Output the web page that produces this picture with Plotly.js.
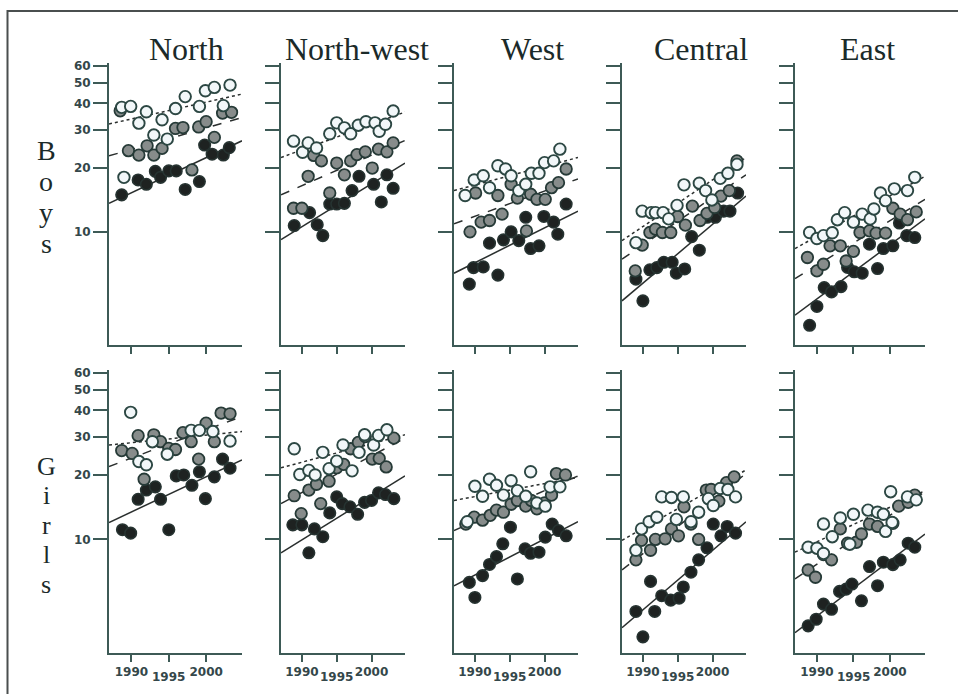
<!DOCTYPE html>
<html><head><meta charset="utf-8">
<script src="https://cdn.plot.ly/plotly-3.0.1.min.js"></script>
<style>html,body{margin:0;padding:0;background:#fff}#chart{width:958px;height:694px}</style>
</head><body><div id="chart"></div>
<script>
// ---------- data ----------
const regions = ['North', 'North-west', 'West', 'Central', 'East'];
const sexes = ['Boys', 'Girls'];
const tickYears = [1990, 1995, 2000];
const tickLabels = ['1990', '1995', '2000'];
const yTickValues = [10, 20, 30, 40, 50, 60];
const trendYears = [1987, 2004.8];

// North, boys
const N_b_black_x = [1988.7,1990.9,1992.0,1993.2,1993.9,1995.0,1996.0,1997.2,1999.1,1999.8,2000.8,2002.3,2003.1];
const N_b_black_y = [14.9,17.5,16.7,19.2,18.0,19.3,19.3,15.8,17.2,25.5,23.1,22.9,24.8];
const N_b_gray_x = [1988.5,1989.6,1991.0,1992.1,1993.0,1994.1,1995.9,1996.9,1999.0,2000.0,2001.1,2002.2,2003.4,1998.1];
const N_b_gray_y = [36.9,24.0,22.9,25.3,22.9,24.6,30.5,30.8,31.0,32.8,27.7,36.0,36.3,19.5];
const N_b_white_x = [1988.7,1989.9,1991.0,1992.0,1993.0,1994.1,1994.8,1995.9,1997.2,1999.1,1999.9,2001.1,2002.3,2003.2,1989.0];
const N_b_white_y = [38.3,38.7,32.3,36.5,28.4,33.5,27.2,37.8,43.0,38.7,45.8,47.5,39.0,48.7,18.0];
const N_b_trends = [[13.6,26.7],[22.7,34.3],[32,44.2]];
// North, girls
const N_g_black_x = [1988.8,1989.9,1990.9,1992.0,1993.2,1993.9,1995.0,1996.0,1997.0,1998.1,1999.1,1999.9,2001.1,2002.2,2003.2];
const N_g_black_y = [11.1,10.7,15.4,17.0,17.6,15.4,11.1,19.8,20.0,17.9,20.7,15.5,19.6,23.7,21.5];
const N_g_gray_x = [1988.7,1990.1,1990.9,1991.7,1993.0,1993.9,1995.0,1995.9,1996.9,1998.0,1999.0,2000.0,2001.1,2002.0,2003.2];
const N_g_gray_y = [26.0,25.2,30.5,19.1,30.8,28.6,26.6,26.3,31.5,28.6,23.7,34.9,28.6,38.9,38.6];
const N_g_white_x = [1989.9,1991.0,1992.0,1992.8,1994.8,1998.0,1999.1,2000.9,2003.2];
const N_g_white_y = [39.2,23.1,22.3,28.6,25.0,32.3,32.3,31.9,28.8];
const N_g_trends = [[12,23.5],[21.9,37.5],[27.6,31.9]];
// North-west, boys
const NW_b_black_x = [1988.9,1991.1,1992.2,1993.0,1994.0,1995.0,1996.1,1997.2,1998.2,2000.3,2001.4,2002.2,2003.1];
const NW_b_black_y = [10.7,12.3,10.8,9.6,13.5,13.5,13.6,15.6,18.2,16.7,13.8,18.5,16.0];
const NW_b_gray_x = [1988.8,1990.0,1990.9,1991.7,1992.8,1994.0,1995.0,1996.1,1997.0,1997.9,1999.1,2000.1,2001.0,2002.2,2003.1];
const NW_b_gray_y = [12.9,12.9,18.2,22.8,21.5,15.2,21.0,18.5,21.5,23.0,23.7,19.9,24.4,23.7,26.1];
const NW_b_white_x = [1988.8,1990.1,1990.9,1992.1,1994.0,1995.0,1996.1,1997.0,1998.1,1999.2,2000.5,2001.1,2002.0,2003.1];
const NW_b_white_y = [26.6,23.6,26.1,24.7,28.8,32.4,30.7,28.8,31.6,32.8,32.4,29.6,31.9,36.8];
const NW_b_trends = [[9.2,21],[14.9,26.8],[22.3,36.4]];
// North-west, girls
const NW_g_black_x = [1988.7,1990.0,1991.0,1991.8,1993.0,1994.0,1995.0,1995.8,1996.9,1998.0,1999.0,2000.0,2001.0,2002.0,2003.2];
const NW_g_black_y = [11.7,11.7,8.66,11.2,10.3,13.3,15.8,14.7,14.2,13.1,14.9,15.2,16.5,16.2,15.5];
const NW_g_gray_x = [1988.9,1989.9,1991.0,1992.1,1992.7,1993.9,1995.0,1996.0,1997.0,1998.1,1999.1,2000.1,2001.1,2002.1,2003.2];
const NW_g_gray_y = [16.0,13.2,17.0,18.1,14.7,18.7,21.6,22.4,26.5,28.4,30.2,23.7,23.9,21.8,29.7];
const NW_g_white_x = [1988.9,1989.7,1991.0,1991.9,1993.0,1993.9,1995.0,1995.9,1997.2,1998.2,1999.0,2000.3,2001.0,2002.2];
const NW_g_white_y = [26.5,20.1,21.0,20.0,25.5,21.4,23.2,27.6,20.9,25.5,30.8,27.6,30.6,32.5];
const NW_g_trends = [[8.66,19.8],[14.7,29.7],[21.6,30.8]];
// West, boys
const W_b_black_x = [1989.2,1989.8,1991.2,1992.1,1993.3,1994.1,1995.2,1996.3,1997.3,1998.0,1999.2,1999.9,2001.3,2001.9,2003.1];
const W_b_black_y = [5.69,6.8,6.85,8.85,6.27,9.17,10.0,9.1,11.7,8.35,8.6,11.8,11.1,9.75,13.5];
const W_b_gray_x = [1989.3,1990.1,1990.9,1992.1,1993.3,1993.9,1995.2,1996.1,1997.4,1998.0,1998.9,2000.1,2001.0,2002.0,2003.1];
const W_b_gray_y = [10.0,15.2,11.1,11.3,14.8,12.1,16.7,14.4,10.1,15.0,14.2,14.2,16.1,17.0,19.7];
const W_b_white_x = [1988.6,1989.9,1991.2,1992.1,1993.3,1994.4,1995.2,1996.3,1997.3,1998.1,1999.2,2000.0,2001.3,2002.2];
const W_b_white_y = [14.8,17.5,18.3,16.1,20.4,19.7,18.3,15.6,16.7,18.8,18.8,21.1,21.5,24.4];
const W_b_trends = [[6.4,12.5],[10.9,17.7],[15.6,22.3]];
// West, girls
const W_g_black_x = [1989.2,1990.0,1991.1,1992.1,1993.1,1994.0,1995.1,1996.1,1997.2,1998.0,1999.2,2000.1,2001.1,2002.0,2003.1];
const W_g_black_y = [6.3,5.36,6.78,7.64,8.32,9.54,11.4,6.54,9.04,8.62,8.72,10.25,11.8,11.0,10.4];
const W_g_gray_x = [1988.7,1989.9,1991.1,1992.2,1993.1,1994.1,1995.2,1996.1,1997.3,1998.1,1998.9,2000.0,2001.0,2001.7,2003.0];
const W_g_gray_y = [11.8,12.7,12.3,12.96,13.7,13.4,14.6,15.2,14.3,15.2,13.9,14.8,16.1,20.3,20.0];
const W_g_white_x = [1988.9,1990.0,1991.1,1992.1,1993.1,1994.1,1995.2,1996.1,1997.3,1998.0,1998.9,2000.1,2000.8,2002.2];
const W_g_white_y = [12.1,17.7,15.9,19.1,17.9,16.1,18.8,16.9,15.9,20.7,14.8,14.3,17.6,17.6];
const W_g_trends = [[6.08,12.1],[11,19.8],[15.2,19.5]];
// Central, boys
const C_b_black_x = [1989.0,1990.0,1991.0,1992.0,1993.0,1994.2,1994.8,1996.0,1997.0,1998.1,1999.2,2000.4,2001.6,2002.5,2003.6];
const C_b_black_y = [6.0,4.75,6.64,6.8,7.2,7.2,6.4,6.7,9.5,8.2,11.7,11.7,12.5,12.5,15.2];
const C_b_gray_x = [1988.9,1989.9,1991.0,1991.8,1992.8,1994.0,1995.0,1996.1,1997.1,1998.2,1999.2,2000.3,2001.2,2002.4,2003.5];
const C_b_gray_y = [6.56,8.66,9.93,10.3,9.93,9.93,11.8,10.75,13.2,11.3,12.2,13.0,14.7,15.6,21.5];
const C_b_white_x = [1989.0,1989.9,1991.2,1991.8,1992.9,1993.7,1994.9,1995.9,1998.1,1999.0,1999.9,2001.1,2002.2,2003.5];
const C_b_white_y = [8.9,12.5,12.3,12.3,12.3,11.5,13.3,16.6,16.9,15.6,14.1,17.8,18.8,20.7];
const C_b_trends = [[4.75,14.7],[7.45,18.5],[9.1,22.3]];
// Central, girls
const C_g_black_x = [1989.0,1990.0,1991.1,1991.7,1992.7,1994.0,1995.2,1995.8,1996.9,1998.0,1999.2,2000.1,2001.2,2002.1,2003.3];
const C_g_black_y = [4.61,3.51,6.37,4.61,5.46,5.21,5.32,6.0,7.03,8.03,9.14,11.8,10.4,11.5,10.7];
const C_g_gray_x = [1989.0,1989.8,1991.1,1991.8,1993.2,1994.1,1995.1,1995.9,1996.9,1998.0,1999.1,1999.8,2000.9,2002.0,2003.1];
const C_g_gray_y = [8.03,9.9,8.9,10.0,10.07,11.2,10.4,14.2,11.8,10.0,17.0,17.1,15.1,18.4,19.6];
const C_g_white_x = [1989.0,1989.8,1990.9,1992.0,1992.7,1994.1,1994.8,1995.8,1996.9,1998.0,1999.4,2000.1,2001.1,2002.2,2003.3];
const C_g_white_y = [8.9,11.2,12.1,12.7,15.8,15.7,12.4,15.8,12.1,13.4,15.5,14.4,17.3,17.1,15.8];
const C_g_trends = [[3.87,12.1],[7.21,20.3],[9.9,21.1]];
// East, boys
const E_b_black_x = [1989.0,1990.0,1991.0,1992.0,1993.3,1994.2,1995.1,1996.2,1997.2,1998.3,1999.1,2000.4,2001.3,2002.3,2003.4];
const E_b_black_y = [3.65,4.47,5.48,5.23,5.54,6.81,6.5,6.4,8.75,6.73,8.35,8.6,11.0,9.6,9.4];
const E_b_gray_x = [1988.7,1990.0,1990.9,1991.8,1993.2,1994.0,1995.0,1995.9,1997.2,1998.1,1999.4,2000.4,2001.4,2002.4,2003.6];
const E_b_gray_y = [7.58,6.56,7.05,8.6,8.6,7.3,8.1,9.93,10.1,9.86,9.86,12.9,12.1,11.4,12.4];
const E_b_white_x = [1989.0,1990.0,1990.9,1992.1,1992.8,1993.8,1995.0,1996.2,1997.3,1997.8,1998.7,1999.4,2000.6,2002.4,2003.4];
const E_b_white_y = [9.93,9.3,9.6,9.9,11.4,12.3,11.1,12.1,11.5,12.8,15.2,14.0,15.9,15.6,18.0];
const E_b_trends = [[4.07,11.5],[6.04,14.2],[8.35,18.2]];
// East, girls
const E_g_black_x = [1988.8,1989.9,1990.9,1992.0,1993.1,1994.0,1994.8,1996.1,1997.2,1998.3,1999.1,2000.4,2001.4,2002.5,2003.4];
const E_g_black_y = [3.95,4.24,4.99,4.72,5.72,5.86,6.19,5.17,7.47,6.08,7.83,7.63,8.03,9.6,9.2];
const E_g_gray_x = [1988.8,1989.8,1990.9,1992.0,1993.2,1994.2,1995.4,1996.1,1997.2,1998.3,2000.4,2001.2,2002.5,2003.4];
const E_g_gray_y = [7.2,6.66,8.5,8.03,11.2,9.6,9.7,10.6,11.8,11.5,11.9,14.3,14.9,16.1];
const E_g_white_x = [1988.8,1990.0,1990.9,1990.9,1992.1,1993.2,1994.5,1995.0,1997.0,1998.3,1999.1,1999.4,2000.1,2000.3,2002.4,2003.6];
const E_g_white_y = [9.2,9.1,8.6,11.8,10.3,12.6,9.5,13.1,13.7,13.4,13.1,10.9,16.7,12.0,15.8,15.3];
const E_g_trends = [[3.67,10.6],[6.54,16.7],[8.72,16.9]];

// ---------- assembly ----------
const panelRows = [
  [
    [N_b_black_x,N_b_black_y,N_b_gray_x,N_b_gray_y,N_b_white_x,N_b_white_y,N_b_trends],
    [NW_b_black_x,NW_b_black_y,NW_b_gray_x,NW_b_gray_y,NW_b_white_x,NW_b_white_y,NW_b_trends],
    [W_b_black_x,W_b_black_y,W_b_gray_x,W_b_gray_y,W_b_white_x,W_b_white_y,W_b_trends],
    [C_b_black_x,C_b_black_y,C_b_gray_x,C_b_gray_y,C_b_white_x,C_b_white_y,C_b_trends],
    [E_b_black_x,E_b_black_y,E_b_gray_x,E_b_gray_y,E_b_white_x,E_b_white_y,E_b_trends]
  ],
  [
    [N_g_black_x,N_g_black_y,N_g_gray_x,N_g_gray_y,N_g_white_x,N_g_white_y,N_g_trends],
    [NW_g_black_x,NW_g_black_y,NW_g_gray_x,NW_g_gray_y,NW_g_white_x,NW_g_white_y,NW_g_trends],
    [W_g_black_x,W_g_black_y,W_g_gray_x,W_g_gray_y,W_g_white_x,W_g_white_y,W_g_trends],
    [C_g_black_x,C_g_black_y,C_g_gray_x,C_g_gray_y,C_g_white_x,C_g_white_y,C_g_trends],
    [E_g_black_x,E_g_black_y,E_g_gray_x,E_g_gray_y,E_g_white_x,E_g_white_y,E_g_trends]
  ]
];

const W = 958, H = 694;
const colLeft = [109, 281, 454, 622, 795];
const colWidth = [133, 124, 124, 124, 130];
const rowTop = [63, 370];
const rowBottom = [345, 653];
const axisColor = '#3d5a56';
const textColor = '#34474a';
const tickFont = {family: '"DejaVu Sans", sans-serif', size: 12, color: textColor, weight: 700};
const markerStyles = [
  {color: '#1e2221', line: {color: '#263331', width: 1.6}},
  {color: '#878c8b', line: {color: '#263a37', width: 1.8}},
  {color: '#f2f7f9', line: {color: '#2c4743', width: 1.9}}
];
const lineDash = ['solid', 'dash', 'dot'];
const serif = '"Liberation Serif", "Times New Roman", serif';

const traces = [];
const layout = {
  width: W, height: H, margin: {l: 0, r: 0, t: 0, b: 0},
  paper_bgcolor: '#ffffff', plot_bgcolor: 'rgba(0,0,0,0)',
  showlegend: false, annotations: [], shapes: []
};

for (let r = 0; r < 2; r++) {
  for (let p = 0; p < 5; p++) {
    const k = r * 5 + p + 1;
    const xa = k === 1 ? 'x' : 'x' + k;
    const ya = k === 1 ? 'y' : 'y' + k;
    const d = panelRows[r][p];
    const trends = d[6];
    for (let s = 0; s < 3; s++) {
      traces.push({
        type: 'scatter', mode: 'lines', x: trendYears, y: trends[s],
        xaxis: xa, yaxis: ya, hoverinfo: 'skip',
        line: {color: '#2a2f2e', width: 1.5, dash: lineDash[s]}
      });
    }
    for (let s = 0; s < 3; s++) {
      traces.push({
        type: 'scatter', mode: 'markers', x: d[s * 2], y: d[s * 2 + 1],
        xaxis: xa, yaxis: ya,
        marker: Object.assign({size: 11.5, symbol: 'circle'}, markerStyles[s])
      });
    }
    const xname = k === 1 ? 'xaxis' : 'xaxis' + k;
    const yname = k === 1 ? 'yaxis' : 'yaxis' + k;
    layout[xname] = {
      domain: [colLeft[p] / W, (colLeft[p] + colWidth[p]) / W],
      range: trendYears, anchor: ya, fixedrange: true,
      showgrid: false, zeroline: false,
      showline: true, linecolor: axisColor, linewidth: 2,
      ticks: 'outside', ticklen: 7, tickwidth: 2, tickcolor: axisColor,
      tickmode: 'array', tickvals: tickYears,
      ticktext: tickLabels.map((t, i) => i === 1 ? '' : t),
      showticklabels: r === 1, tickfont: tickFont
    };
    layout[yname] = {
      type: 'log', domain: [1 - rowBottom[r] / H, 1 - rowTop[r] / H],
      range: [Math.log10(2.95), Math.log10(61.8)], anchor: xa, fixedrange: true,
      showgrid: false, zeroline: false,
      showline: true, linecolor: axisColor, linewidth: 2,
      ticks: 'outside', ticklen: 14, tickwidth: 2, tickcolor: axisColor,
      tickmode: 'array', tickvals: yTickValues, ticktext: yTickValues.map(String),
      showticklabels: p === 0, tickfont: tickFont
    };
    if (r === 1) {
      layout.annotations.push({
        xref: xa, yref: 'paper', x: tickYears[1], y: 1 - 677 / H,
        text: tickLabels[1], showarrow: false, font: tickFont,
        xanchor: 'center', yanchor: 'middle'
      });
    }
    if (r === 0) {
      layout.annotations.push({
        xref: 'paper', yref: 'paper',
        x: (colLeft[p] + colWidth[p] / 2 + [11, 14, 16, 17, 7][p]) / W, y: 1 - 49 / H,
        text: regions[p], showarrow: false,
        font: {family: serif, size: 32, color: '#1b2a29'},
        xanchor: 'center', yanchor: 'middle'
      });
    }
  }
}

// stacked row labels, one letter per line
const rowLetterTop = [150, 466];
const rowLetterStep = [31, 29.5];
const rowLetterSize = [28, 26];
sexes.forEach((word, r) => {
  word.split('').forEach((ch, i) => {
    layout.annotations.push({
      xref: 'paper', yref: 'paper', x: 46 / W, y: 1 - (rowLetterTop[r] + i * rowLetterStep[r]) / H,
      text: ch, showarrow: false,
      font: {family: serif, size: rowLetterSize[r], color: '#1b2a29'},
      xanchor: 'center', yanchor: 'middle', borderpad: 0
    });
  });
});

// outer frame
layout.shapes.push({
  type: 'rect', xref: 'paper', yref: 'paper',
  x0: 7.5 / W, x1: 1.02, y0: -0.02, y1: 1 - 11 / H,
  line: {color: '#4a4f4f', width: 2}, fillcolor: 'rgba(0,0,0,0)'
});

Plotly.newPlot('chart', traces, layout, {staticPlot: true, displayModeBar: false});
</script>
</body></html>
